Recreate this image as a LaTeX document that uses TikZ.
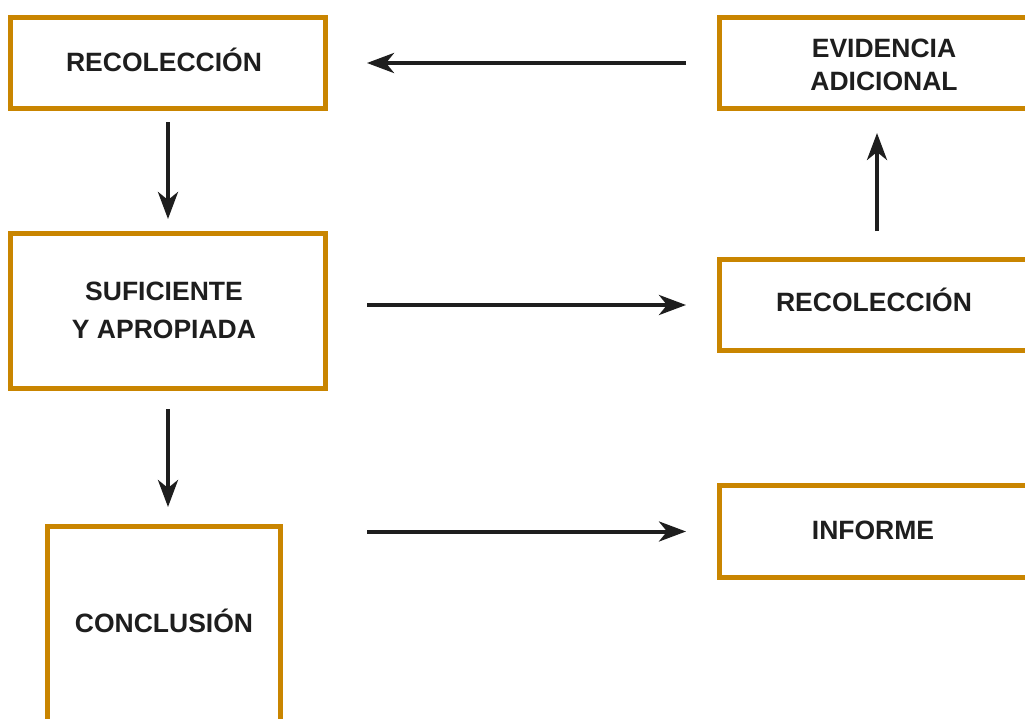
\documentclass[tikz,border=0pt]{standalone}
\usepackage{fontspec}
\setmainfont{Liberation Sans}
\usetikzlibrary{arrows.meta}
\definecolor{boxorange}{RGB}{201,133,0}
\definecolor{ink}{RGB}{30,30,30}
\tikzset{
  box/.style={draw=boxorange, line width=5pt, rectangle, inner sep=0pt, fill=white},
  lbl/.style={text=ink, font=\fontsize{26.5}{32.5}\selectfont\bfseries, align=center, inner sep=0pt},
  arr/.style={draw=ink, line width=4pt, -{Stealth[length=27pt, width=20pt, inset=8pt]}}
}
\begin{document}
\begin{tikzpicture}[x=1pt, y=-1pt]
\useasboundingbox (0,0) rectangle (1025,718);
\clip (0,0) rectangle (1025,718);
% boxes (centre of line coordinates)
\node[box, minimum width=315pt, minimum height=91pt] (B1) at (168,63) {};
\node[box, minimum width=315pt, minimum height=91pt] (E) at (877,63) {};
\node[box, minimum width=315pt, minimum height=155pt] (S) at (168,311) {};
\node[box, minimum width=315pt, minimum height=91pt] (R2) at (877,305) {};
\node[box, minimum width=315pt, minimum height=92pt] (I) at (877,531.5) {};
\node[box, minimum width=233pt, minimum height=203.5pt] (C) at (164,628.25) {};
% labels
\node[lbl] (tB1) at (164,59.5) {RECOLECCIÓN};
\node[lbl] (tE) at (884,65) {EVIDENCIA\\ADICIONAL};
\node[lbl, font=\fontsize{26.5}{38}\selectfont\bfseries] (tS) at (164,310) {SUFICIENTE\\Y APROPIADA};
\node[lbl] (tR2) at (874,299.5) {RECOLECCIÓN};
\node[lbl] (tI) at (873,530) {INFORME};
\node[lbl] (tC) at (164,620.5) {CONCLUSIÓN};
% connectors
\draw[arr, shorten <=31pt, shorten >=39pt] (E.west) -- (B1.east);
\draw[arr, shorten <=11pt, shorten >=12pt] (B1.south) -- (B1.south |- S.north);
\draw[arr, shorten <=26pt, shorten >=22pt] (R2.north) -- (E.south);
\draw[arr, shorten <=39pt, shorten >=31pt] (S.east |- R2.west) -- (R2.west);
\draw[arr, shorten <=18pt, shorten >=17pt] (S.south) -- (S.south |- C.north);
\draw[arr, shorten <=84pt, shorten >=31pt] (C.east |- I.west) -- (I.west);
\end{tikzpicture}
\end{document}
